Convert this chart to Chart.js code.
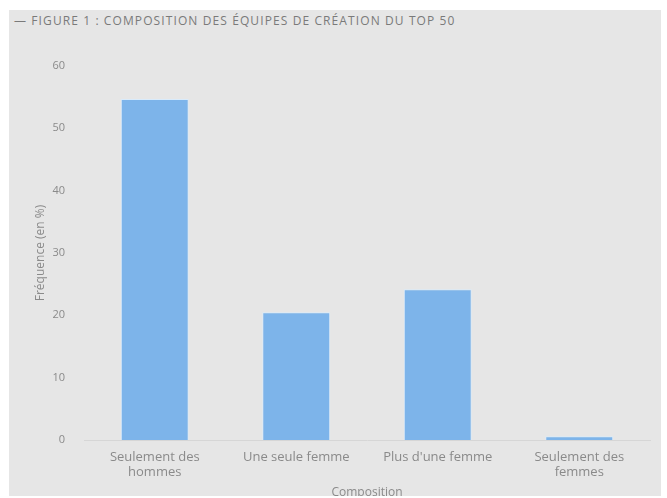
<!DOCTYPE html>
<html>
<head>
<meta charset="utf-8">
<script src="https://cdn.jsdelivr.net/npm/chart.js@4/dist/chart.umd.min.js"></script>
<style>
  html, body { margin: 0; padding: 0; background: #ffffff; }
  #panel { position: absolute; left: 9px; top: 10px; width: 652px; height: 486px; background: #e6e6e6; overflow: hidden; }
  #titre { position: absolute; left: 5px; top: 2px; font: 12px "Open Sans", sans-serif; color: #7a7a7a; letter-spacing: 1.1px; white-space: nowrap; }
  #wrap { position: absolute; left: 0; top: 0; width: 652px; height: 496px; }
</style>
</head>
<body>
<div id="panel">
  <div id="titre">— FIGURE 1 : COMPOSITION DES ÉQUIPES DE CRÉATION DU TOP 50</div>
  <div id="wrap"><canvas id="barChart"></canvas></div>
</div>
<script>
const categories = [['Seulement des', 'hommes'], 'Une seule femme', "Plus d'une femme", ['Seulement des', 'femmes']];
const frequences = [54.7, 20.5, 24.2, 0.6];
const yTicks = [0, 10, 20, 30, 40, 50, 60];

const textColor = '#8a8a8a';
const fontFamily = '"Open Sans", sans-serif';

new Chart(document.getElementById('barChart'), {
  type: 'bar',
  data: {
    labels: categories,
    datasets: [{
      label: 'Fréquence',
      data: frequences,
      backgroundColor: '#7db4ea',
      borderColor: '#d9ebfb',
      borderWidth: 1,
      categoryPercentage: 1,
      barPercentage: 0.48
    }]
  },
  options: {
    responsive: true,
    maintainAspectRatio: false,
    animation: false,
    layout: { padding: { top: 56, right: 11, left: 0, bottom: 0 } },
    plugins: { legend: { display: false }, tooltip: { enabled: false } },
    scales: {
      x: {
        afterFit: axis => { axis.height = 66; },
        grid: { display: false, drawTicks: false, tickLength: 0 },
        border: { display: true, color: '#d6d6d6' },
        ticks: { color: textColor, font: { family: fontFamily, size: 13, lineHeight: 1.2 }, padding: 9, maxRotation: 0 },
        title: { display: true, text: 'Composition', color: textColor, font: { family: fontFamily, size: 12 }, padding: { top: 4, bottom: 6 } }
      },
      y: {
        min: 0,
        max: 60,
        afterBuildTicks: axis => { axis.ticks = yTicks.map(v => ({ value: v })); },
        afterFit: axis => { axis.width = 75; },
        grid: { display: false, drawTicks: false, tickLength: 0 },
        border: { display: false },
        ticks: { color: textColor, font: { family: fontFamily, size: 11 }, padding: 19 },
        title: { display: true, text: 'Fréquence (en %)', color: textColor, font: { family: fontFamily, size: 12 }, padding: { top: 24, bottom: 6 } }
      }
    }
  }
});
</script>
</body>
</html>
